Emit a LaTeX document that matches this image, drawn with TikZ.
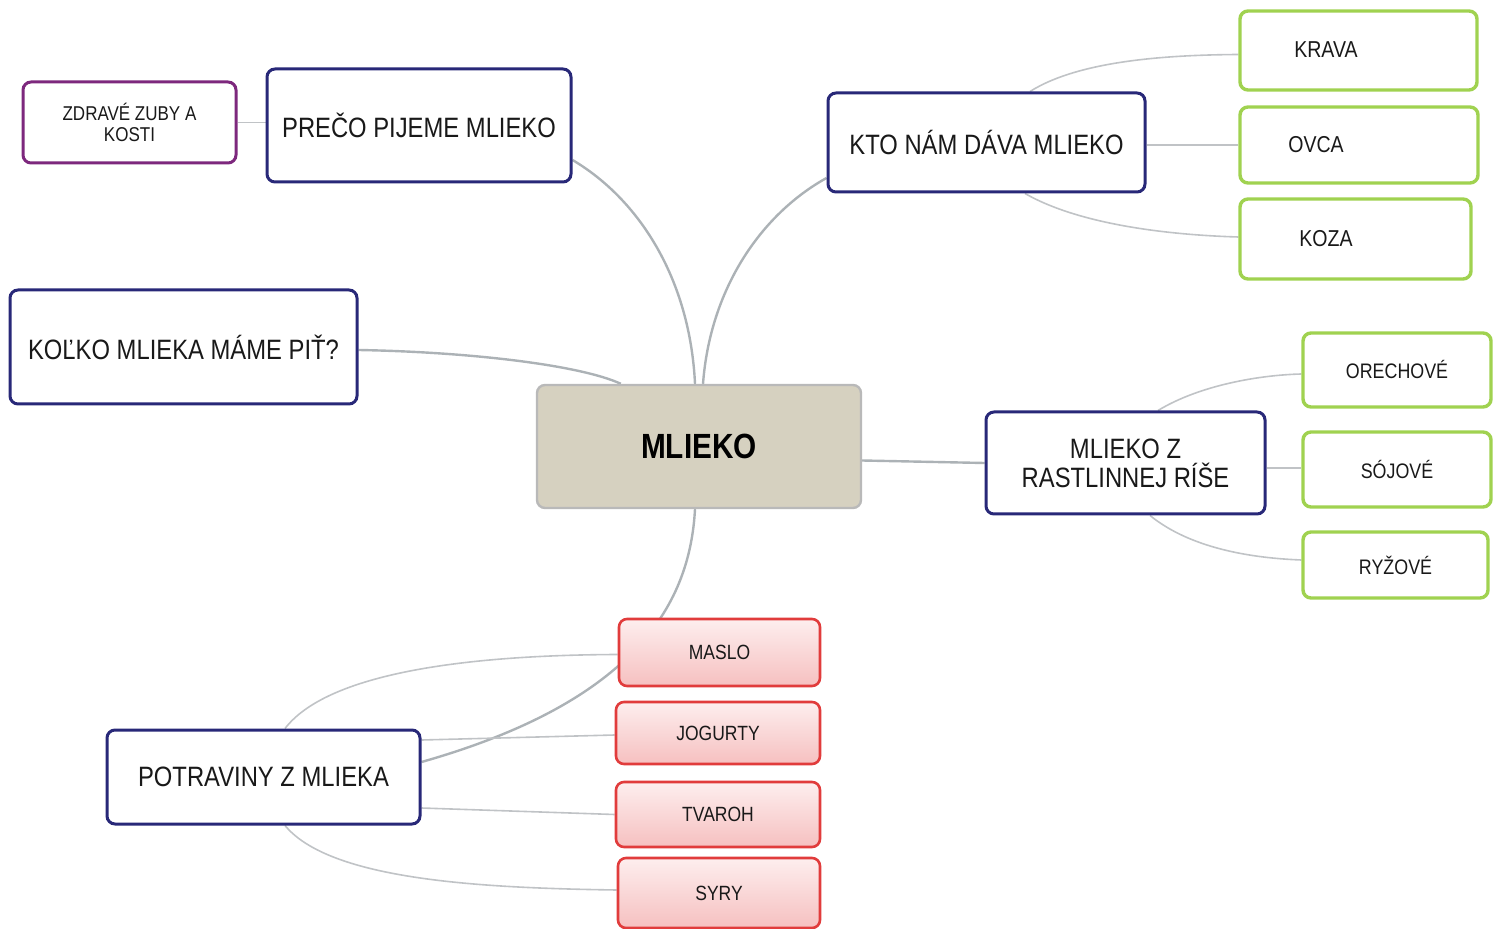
\documentclass[tikz,border=0pt]{standalone}
\usepackage{fontspec}
\setmainfont{Liberation Sans}[FakeStretch=0.85]
\usetikzlibrary{backgrounds,calc}
\definecolor{navy}{RGB}{40,40,120}
\definecolor{purp}{RGB}{125,40,125}
\definecolor{lgreen}{RGB}{160,210,80}
\definecolor{rborder}{RGB}{225,60,60}
\definecolor{rtop}{RGB}{253,238,238}
\definecolor{rbot}{RGB}{246,192,192}
\definecolor{beige}{RGB}{214,209,192}
\definecolor{bborder}{RGB}{185,185,185}
\definecolor{conn}{RGB}{172,178,182}
\definecolor{connl}{RGB}{192,195,198}
\definecolor{txt}{RGB}{25,25,25}
\tikzset{
  box/.style={rounded corners=4pt, inner sep=0pt, align=center, text=txt},
  navybox/.style={box, draw=navy, line width=1.5pt, fill=white, font=\fontsize{14}{14.5}\selectfont},
  purpbox/.style={box, draw=purp, line width=1.5pt, fill=white, font=\fontsize{10}{10.5}\selectfont},
  greenbox/.style={box, draw=lgreen, line width=1.7pt, fill=white},
  greentext/.style={inner sep=0pt, text=txt, font=\fontsize{11.5}{12}\selectfont},
  greenlab/.style={greenbox, font=\fontsize{10.5}{12}\selectfont},
  redbox/.style={box, draw=rborder, line width=1.3pt, top color=rtop, bottom color=rbot, font=\fontsize{10.3}{12}\selectfont},
  centerbox/.style={box, draw=bborder, line width=1.2pt, fill=beige, text=black, font=\fontsize{17.5}{18}\selectfont\bfseries},
  mainconn/.style={draw=conn, line width=1.2pt},
  subconn/.style={draw=connl, line width=0.8pt},
}
\begin{document}
\begin{tikzpicture}[x=0.5pt,y=-0.5pt]
\useasboundingbox (0,0) rectangle (1497,929);
% nodes
\node[centerbox, minimum width=162pt, minimum height=61.5pt] (mlieko) at (699,446.5) {MLIEKO};
\node[navybox, minimum width=152pt, minimum height=56.5pt] (preco) at (419,125.5) {PREČO PIJEME MLIEKO};
\node[purpbox, minimum width=106.5pt, minimum height=40.5pt] (zdrave) at (129.5,122.5) {ZDRAVÉ ZUBY A\\KOSTI};
\node[navybox, minimum width=158.5pt, minimum height=49.5pt] (kto) at (986.5,142.5) {KTO NÁM DÁVA MLIEKO};
\node[greenbox, minimum width=118.5pt, minimum height=39.5pt] (krava) at (1358.5,50.5) {};
\node[greentext] (kravat) at (1326,50) {KRAVA};
\node[greenbox, minimum width=119pt, minimum height=38pt] (ovca) at (1359,145) {};
\node[greentext] (ovcat) at (1316,145) {OVCA};
\node[greenbox, minimum width=115.5pt, minimum height=40pt] (koza) at (1355.5,239) {};
\node[greentext] (kozat) at (1326,239) {KOZA};
\node[navybox, minimum width=173.5pt, minimum height=57pt] (kolko) at (183.5,347) {KOĽKO MLIEKA MÁME PIŤ?};
\node[navybox, minimum width=139.5pt, minimum height=51pt] (rast) at (1125.5,463) {MLIEKO Z\\RASTLINNEJ RÍŠE};
\node[greenlab, minimum width=94pt, minimum height=37pt] (orech) at (1397,370) {ORECHOVÉ};
\node[greenlab, minimum width=94pt, minimum height=37.5pt] (soj) at (1397,469.5) {SÓJOVÉ};
\node[greenlab, minimum width=92.5pt, minimum height=33pt] (ryz) at (1395.5,565) {RYŽOVÉ};
\node[navybox, minimum width=156.5pt, minimum height=47pt] (potr) at (263.5,777) {POTRAVINY Z MLIEKA};
\node[redbox, minimum width=100.5pt, minimum height=33.5pt] (maslo) at (719.5,652.5) {MASLO};
\node[redbox, minimum width=102pt, minimum height=31pt] (jog) at (718,733) {JOGURTY};
\node[redbox, minimum width=102pt, minimum height=32.5pt] (tvar) at (718,814.5) {TVAROH};
\node[redbox, minimum width=101pt, minimum height=35pt] (syry) at (719,893) {SYRY};
% connectors
\begin{pgfonlayer}{background}
\draw[mainconn] ($(preco.east)+(0,34.5)$) .. controls (640,200) and (690,280) .. ($(mlieko.north)+(-4,0)$);
\draw[mainconn] ($(kto.west)+(0,35.5)$) .. controls (760,215) and (710,290) .. ($(mlieko.north)+(4,0)$);
\draw[mainconn] ($(kolko.east)+(0,3)$) .. controls (470,352) and (580,365) .. ($(mlieko.north west)+(85,0)$);
\draw[mainconn] ($(mlieko.east)+(0,14)$) -- (rast.west);
\draw[mainconn] ($(mlieko.south)+(-4,0)$) .. controls (690,600) and (640,700) .. ($(potr.east)+(0,-15)$);
\draw[subconn] (zdrave.east) -- (preco.west |- zdrave.east);
\draw[subconn] ($(kto.north)+(43.5,0)$) .. controls (1080,60) and (1170,55) .. ($(krava.west)+(0,4)$);
\draw[subconn] (kto.east |- ovca.west) -- (ovca.west);
\draw[subconn] ($(kto.south)+(38.5,0)$) .. controls (1080,225) and (1170,235) .. ($(koza.west)+(0,-2)$);
\draw[subconn] ($(rast.north)+(32.5,0)$) .. controls (1200,385) and (1260,375) .. ($(orech.west)+(0,4)$);
\draw[subconn] (rast.east |- 0,468) -- (soj.west |- 0,468);
\draw[subconn] ($(rast.south)+(24.5,0)$) .. controls (1190,548) and (1250,558) .. ($(ryz.west)+(0,-5)$);
\draw[subconn] ($(potr.north)+(21.5,0)$) .. controls (330,670) and (480,655) .. ($(maslo.west)+(0,2)$);
\draw[subconn] ($(potr.east)+(0,-37)$) -- ($(jog.west)+(0,2)$);
\draw[subconn] ($(potr.east)+(0,31)$) -- (tvar.west);
\draw[subconn] ($(potr.south)+(21.5,0)$) .. controls (330,880) and (480,888) .. ($(syry.west)+(0,-3)$);
\end{pgfonlayer}
\end{tikzpicture}
\end{document}
